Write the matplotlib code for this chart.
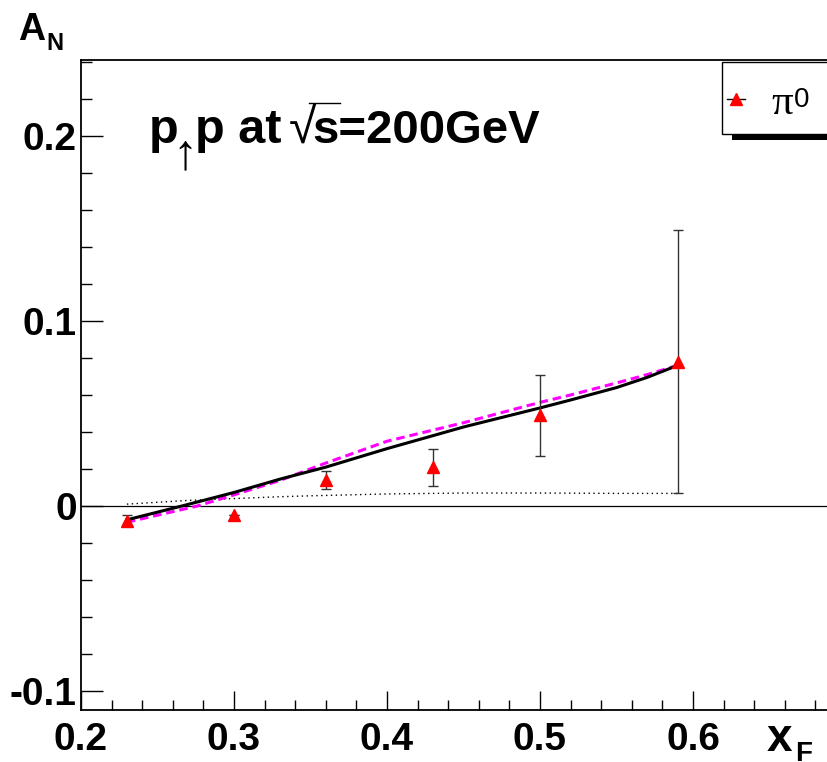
import matplotlib
matplotlib.use("Agg")
import matplotlib.pyplot as plt
from matplotlib.lines import Line2D
from matplotlib.patches import Rectangle
from matplotlib.ticker import MultipleLocator

plt.rcParams.update({
    'font.family': 'Liberation Sans',
    'font.weight': 'bold',
    'axes.unicode_minus': False,
})

# pi0 data points
xf = [0.23, 0.30, 0.36, 0.43, 0.50, 0.59]
an = [-0.008, -0.005, 0.014, 0.021, 0.049, 0.078]
an_err = [0.003, 0.0, 0.005, 0.010, 0.022, 0.071]

# theory curves
x_solid = [0.23, 0.266, 0.30, 0.33, 0.36, 0.40, 0.43, 0.45, 0.50, 0.52, 0.55, 0.57, 0.59]
y_solid = [-0.0075, 0.0, 0.0073, 0.0145, 0.021, 0.031, 0.038, 0.0427, 0.053, 0.0573,
           0.064, 0.0695, 0.0760]

x_dash = [0.23, 0.276, 0.30, 0.33, 0.36, 0.40, 0.43, 0.45, 0.50, 0.52, 0.55, 0.57, 0.59]
y_dash = [-0.0088, 0.0, 0.006, 0.0138, 0.0232, 0.035, 0.041, 0.045, 0.056, 0.060,
          0.0665, 0.071, 0.076]

x_dot = [0.23, 0.27, 0.30, 0.33, 0.35, 0.40, 0.45, 0.50, 0.55, 0.59]
y_dot = [0.001, 0.003, 0.004, 0.005, 0.0055, 0.0065, 0.007, 0.007, 0.0068, 0.0068]

xticks = [0.2, 0.3, 0.4, 0.5, 0.6, 0.7]
xtick_labels = ['0.2', '0.3', '0.4', '0.5', '0.6', '']
yticks = [-0.1, 0.0, 0.1, 0.2]
ytick_labels = ['-0.1', '0', '0.1', '0.2']

W, H = 828, 762
fig = plt.figure(figsize=(W / 100, H / 100), dpi=100)
ax = fig.add_axes([81 / W, 52 / H, 765 / W, 650 / H])

ax.set_xlim(0.2, 0.7)
ax.set_ylim(-0.1103, 0.2411)

ax.axhline(0, color='k', lw=0.9, zorder=1)
ax.plot(x_dot, y_dot, color='k', lw=1.0, ls=(0, (1, 2.5)), zorder=2)
ax.plot(x_dash, y_dash, color='#ff00ff', lw=2.2, ls=(0, (2.8, 1.6)), zorder=3)
ax.plot(x_solid, y_solid, color='k', lw=2.2, zorder=4)
ax.errorbar(xf, an, yerr=an_err, fmt='none', ecolor='#333333', elinewidth=1.0,
            capsize=3.5, capthick=1.0, zorder=5)
ax.plot(xf, an, ls='none', marker='^', ms=9, mfc='red', mec='red', zorder=6)

# ticks: ROOT style, inward, left & bottom only
ax.set_xticks(xticks, xtick_labels)
ax.set_yticks(yticks, ytick_labels)
ax.xaxis.set_minor_locator(MultipleLocator(0.02))
ax.yaxis.set_minor_locator(MultipleLocator(0.02))
ax.tick_params(which='both', direction='in', top=False, right=False, width=1.0)
ax.tick_params(axis='x', which='major', length=14, pad=9, labelsize=28)
ax.tick_params(axis='x', which='minor', length=7)
ax.tick_params(axis='y', which='major', length=16, pad=3, labelsize=28)
ax.tick_params(axis='y', which='minor', length=8)
for s in ax.spines.values():
    s.set_linewidth(1.3)

# axis titles
fig.text(18 / W, 1 - 40 / H, 'A', fontsize=27, fontweight='bold', va='baseline')
fig.text(46 / W, 1 - 50 / H, 'N', fontsize=17, fontweight='bold', va='baseline')
fig.text(767 / W, 1 - 751 / H, 'x', fontsize=33, fontweight='bold', va='baseline')
fig.text(795 / W, 1 - 761 / H, 'F', fontsize=20, fontweight='bold', va='baseline')

# label p(up)p at sqrt(s)=200GeV, built from pieces
fig.text(149 / W, 1 - 143 / H, 'p', fontsize=35, fontweight='bold', va='baseline')
fig.text(185 / W, 1 - 155 / H, '\u2191', fontsize=36, fontweight='normal',
         ha='center', va='center')
fig.text(195 / W, 1 - 143 / H, 'p at', fontsize=35, fontweight='bold', va='baseline')
fig.text(289 / W, 1 - 143 / H, '\u221a', fontsize=36, fontweight='normal', va='baseline')
fig.text(312 / W, 1 - 143 / H, 's=200GeV', fontsize=34, fontweight='bold', va='baseline')
fig.add_artist(Line2D([309 / W, 340 / W], [1 - 103 / H, 1 - 103 / H], color='k', lw=1.0))

# legend: marker + pi label, ROOT-like box with black shadow
handle = Line2D([], [], color='k', lw=1.0, marker='^', ms=9, mfc='red', mec='red')
leg = ax.legend([handle], ['\u03c0'], loc='center left',
                bbox_to_anchor=(727 / W, 1 - 103 / H), bbox_transform=fig.transFigure,
                borderaxespad=0, borderpad=0, frameon=False,
                prop={'family': 'Liberation Serif', 'size': 31, 'weight': 'normal'},
                handlelength=0.42, handletextpad=0.6)
ax.add_patch(Rectangle((732, H - 140), 200, 72, transform=None, facecolor='k',
                       edgecolor='none', zorder=4.8, clip_on=False))
ax.add_patch(Rectangle((722, H - 134), 200, 72, transform=None, facecolor='white',
                       edgecolor='k', lw=1.0, zorder=4.9, clip_on=False))
fig.canvas.draw()
tb = leg.get_texts()[0].get_window_extent()
fig.text((tb.x1 + 1) / W, 1 - 107 / H, '0', fontsize=20, fontweight='normal',
         va='baseline')

fig.savefig('out.png', dpi=100)
